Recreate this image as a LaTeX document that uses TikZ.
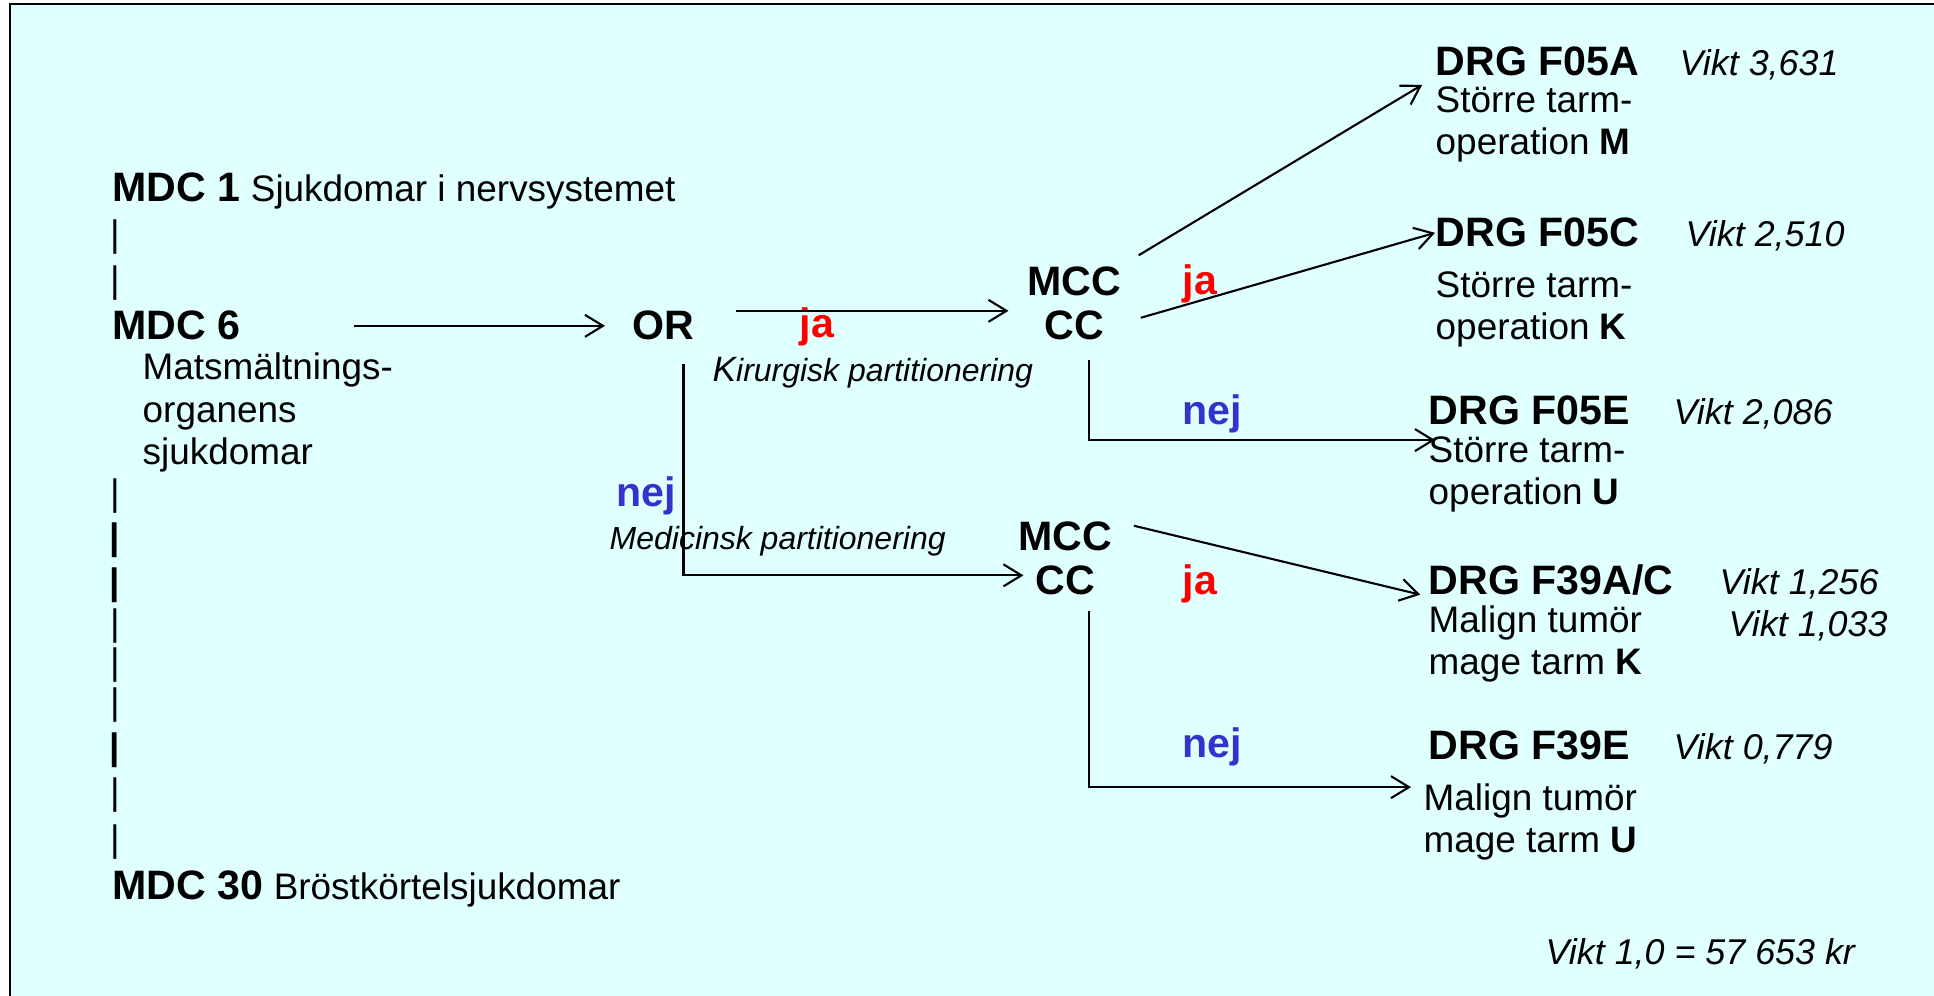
\documentclass[tikz,border=0pt]{standalone}
\usepackage{fontspec}
\setmainfont{Liberation Sans}
\usetikzlibrary{positioning, arrows.meta}
\definecolor{bakgrund}{RGB}{224,255,255}
\definecolor{jared}{RGB}{255,0,0}
\definecolor{nejblue}{RGB}{51,51,204}

\begin{document}
\begin{tikzpicture}[
	desctext/.style={anchor=base west,inner sep=0pt,align=left,font=\fontsize{10.5}{12.2}\selectfont},
	drghead/.style={anchor=base west,inner sep=0pt,font=\fontsize{11.7}{14}\selectfont\bfseries},
	mccbox/.style={anchor=base,inner sep=0pt,align=center,font=\fontsize{11.7}{12.8}\selectfont\bfseries},
	viktlabel/.style={anchor=base west,inner sep=0pt,font=\fontsize{10.2}{12}\selectfont\itshape},
	partlabel/.style={anchor=base west,inner sep=0pt,font=\fontsize{9.1}{11}\selectfont\itshape},
	jalabel/.style={drghead,text=jared},
	nejlabel/.style={drghead,text=nejblue},
	barsym/.style={inner sep=0pt,font=\fontsize{10.5}{12}\selectfont},
	pil/.style={line width=0.6pt,-{Straight Barb[length=1.8mm,width=2.2mm]}}
]
	\useasboundingbox (0,0) rectangle (19.34,9.96);
	\fill[bakgrund] (0.10,0) rectangle (19.34,9.92);
	\draw[line width=0.6pt] (0.10,0) -- (0.10,9.92) -- (19.34,9.92);

	% MDC column (multi-line nodes sit on their last line)
	\node[desctext] (mdc1) at (1.12,7.94) {{\fontsize{11.7}{14}\selectfont\bfseries MDC 1} Sjukdomar i nervsystemet};
	\node[drghead] (mdc6) at (1.12,6.56) {MDC 6};
	\node[desctext] (mdc6txt) at (1.42,5.31) {Matsmältnings-\\organens\\sjukdomar};
	\node[desctext] (mdc30) at (1.12,0.96) {{\fontsize{11.7}{14}\selectfont\bfseries MDC 30} Bröstkörtelsjukdomar};
	\foreach \y [count=\i] in {7.59,7.13,5.00,3.70,3.31,2.91,2.01,1.54}
		\node[barsym] (bar\i) at (1.15,\y) {|};
	\foreach \y [count=\i] in {4.56,4.11,2.46}
		\node[barsym,font=\fontsize{10.5}{12}\selectfont\bfseries] (fetbar\i) at (1.15,\y) {|};

	% OR and partitioning
	\node[drghead] (orop) at (6.32,6.56) {OR};
	\node[jalabel] (ja1) at (7.99,6.58) {ja};
	\node[partlabel] (kir) at (7.12,6.14) {{\fontsize{10}{11}\selectfont K}irurgisk partitionering};
	\node[nejlabel] (nej1) at (6.16,4.89) {nej};
	\node[partlabel] (med) at (6.09,4.46) {Medicinsk partitionering};

	\node[mccbox] (mcc1) at (10.74,6.56) {MCC\\CC};
	\node[mccbox] (mcc2) at (10.65,4.01) {MCC\\CC};

	\node[jalabel] (ja2) at (11.82,7.01) {ja};
	\node[nejlabel] (nej2) at (11.82,5.71) {nej};
	\node[jalabel] (ja3) at (11.82,4.01) {ja};
	\node[nejlabel] (nej3) at (11.82,2.38) {nej};

	% DRG groups
	\node[drghead] (f05a) at (14.35,9.20) {DRG F05A};
	\node[desctext] (f05atxt) at (14.35,8.41) {Större tarm-\\operation \textbf{M}};
	\node[viktlabel] (f05avikt) at (16.79,9.20) {Vikt 3,631};

	\node[drghead] (f05c) at (14.35,7.49) {DRG F05C};
	\node[desctext] (f05ctxt) at (14.35,6.56) {Större tarm-\\operation \textbf{K}};
	\node[viktlabel] (f05cvikt) at (16.85,7.49) {Vikt 2,510};

	\node[drghead] (f05e) at (14.28,5.71) {DRG F05E};
	\node[desctext] (f05etxt) at (14.28,4.91) {Större tarm-\\operation \textbf{U}};
	\node[viktlabel] (f05evikt) at (16.73,5.71) {Vikt 2,086};

	\node[drghead] (f39ac) at (14.28,4.01) {DRG F39A/C};
	\node[desctext] (f39actxt) at (14.28,3.21) {Malign tumör\\mage tarm \textbf{K}};
	\node[viktlabel] (f39avikt) at (17.19,4.01) {Vikt 1,256};
	\node[viktlabel] (f39cvikt) at (17.28,3.59) {Vikt 1,033};

	\node[drghead] (f39e) at (14.28,2.36) {DRG F39E};
	\node[desctext] (f39etxt) at (14.23,1.43) {Malign tumör\\mage tarm \textbf{U}};
	\node[viktlabel] (f39evikt) at (16.73,2.36) {Vikt 0,779};

	\node[viktlabel] (krona) at (15.45,0.31) {Vikt 1,0 = 57 653 kr};

	% connectors
	\draw[pil] ([xshift=11.3mm]mdc6.east) -- ([xshift=-2.7mm]orop.west);
	\draw[pil,shorten >=1.8mm] ([shift={(4.1mm,1.5mm)}]orop.east) coordinate (jastart) -- (jastart -| mcc1.west);
	\draw[pil] ([shift={(2mm,-2.3mm)}]orop.south) |- ([shift={(0.6mm,-1.7mm)}]mcc2.west);
	\draw[pil,shorten <=2mm,shorten >=1.5mm] (mcc1.north east) -- (f05a.south west);
	\draw[pil,shorten <=2mm] ([yshift=-2mm]mcc1.east) -- (f05c.west);
	\draw[pil] ([shift={(1.5mm,-1.9mm)}]mcc1.south) |- ([shift={(0.7mm,-1.4mm)}]f05e.south west);
	\draw[pil,shorten <=2.2mm,shorten >=0.8mm] (mcc2.north east) -- (f39ac.south west);
	\draw[pil] ([shift={(2.4mm,-1.5mm)}]mcc2.south) |- ([shift={(-1.7mm,-2.6mm)}]f39e.south west);
\end{tikzpicture}
\end{document}
